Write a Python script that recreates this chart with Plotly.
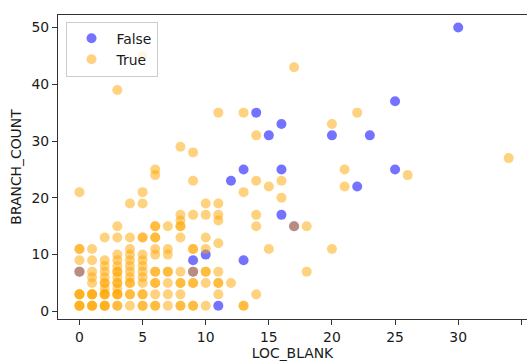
import plotly.graph_objects as go

# LOC_BLANK / BRANCH_COUNT for the "False" class
false_x = [30, 25, 14, 16, 15, 20, 23, 12, 13, 16, 16, 17, 10, 9, 13, 11, 0, 9, 25, 22]
false_y = [50, 37, 35, 33, 31, 31, 31, 23, 25, 25, 17, 15, 10, 9, 9, 1, 7, 7, 25, 22]

# LOC_BLANK / BRANCH_COUNT for the "True" class
true_x = [
    0, 0, 0, 0, 0, 0, 0, 0, 0, 0, 0,
    1, 1, 1, 1, 1, 1, 1, 1, 1, 1, 1,
    2, 2, 2, 2, 2, 2, 2, 2, 2, 2, 2, 2, 2, 2,
    3, 3, 3, 3, 3, 3, 3, 3, 3, 3, 3, 3, 3, 3, 3, 3, 3,
    4, 4, 4, 4, 4, 4, 4, 4, 4, 4, 4, 4, 4,
    5, 5, 5, 5, 5, 5, 5, 5, 5, 5, 5, 5, 5, 5, 5,
    6, 6, 6, 6, 6, 6, 6, 6, 6, 6, 6, 6, 6, 6, 6,
    7, 7, 7, 7, 7, 7, 7, 7,
    8, 8, 8, 8, 8, 8, 8, 8, 8, 8, 8, 8,
    9, 9, 9, 9, 9, 9, 9, 9, 9, 9,
    10, 10, 10, 10, 10, 10, 10, 10,
    11, 11, 11, 11, 11, 11, 11, 11, 11,
    12,
    13, 13, 13, 13,
    14, 14, 14, 14, 14,
    15, 15, 16, 16, 17, 17, 18, 18, 20, 20, 21, 21, 22, 26, 34,
]
true_y = [
    1, 1, 1, 3, 3, 3, 7, 9, 11, 11, 21,
    1, 1, 1, 3, 3, 3, 5, 6, 7, 9, 11,
    1, 1, 1, 3, 3, 3, 4, 5, 5, 6, 7, 8, 9, 13,
    1, 1, 3, 3, 3, 4, 5, 5, 6, 7, 7, 8, 9, 10, 13, 15, 39,
    1, 3, 3, 5, 5, 6, 7, 8, 9, 10, 11, 13, 19,
    1, 1, 3, 3, 5, 6, 7, 8, 9, 10, 13, 13, 19, 21, 45,
    1, 1, 3, 5, 5, 7, 7, 10, 11, 13, 13, 15, 15, 24, 25,
    1, 3, 5, 7, 7, 10, 11, 15,
    1, 1, 3, 5, 5, 7, 13, 15, 15, 16, 17, 29,
    1, 1, 5, 5, 7, 11, 11, 17, 23, 28,
    1, 5, 7, 7, 11, 13, 17, 19,
    3, 5, 5, 7, 12, 16, 17, 19, 35,
    5,
    1, 1, 21, 35,
    3, 15, 17, 23, 31,
    11, 22, 20, 23, 15, 43, 7, 15, 11, 33, 22, 25, 35, 24, 27,
]

series_names = ["False", "True"]
x_ticks = [0, 5, 10, 15, 20, 25, 30, 35]
y_ticks = [0, 10, 20, 30, 40, 50]

FONT = "DejaVu Sans"
FS = 13.9
TXT = "#1a1a1a"

fig = go.Figure()
fig.add_trace(go.Scatter(
    x=false_x, y=false_y, mode="markers", name=series_names[0],
    marker=dict(color="rgba(0,0,255,0.55)", size=10, line=dict(width=0)),
))
fig.add_trace(go.Scatter(
    x=true_x, y=true_y, mode="markers", name=series_names[1],
    marker=dict(color="rgba(255,165,0,0.5)", size=10, line=dict(width=0)),
))

axis_common = dict(
    showgrid=False, zeroline=False, showline=True, linecolor="#333333", linewidth=1.1,
    ticks="outside", ticklen=5, tickwidth=1.1, tickcolor="#333333",
    tickfont=dict(family=FONT, size=FS, color=TXT), automargin=False,
)

fig.update_layout(
    width=527, height=361,
    margin=dict(l=58, r=0, t=15, b=42),
    paper_bgcolor="white", plot_bgcolor="white",
    font=dict(family=FONT, size=FS, color=TXT),
    xaxis=dict(
        range=[-1.7, 35.45], tickvals=x_ticks, mirror=True,
        title=dict(text="LOC_BLANK", font=dict(family=FONT, size=FS, color=TXT), standoff=6),
        **axis_common,
    ),
    yaxis=dict(
        range=[-1.34, 52.2], tickvals=y_ticks, mirror=False,
        title=dict(text="BRANCH_COUNT", font=dict(family=FONT, size=FS, color=TXT), standoff=6),
        **axis_common,
    ),
    legend=dict(
        x=0.016, y=0.978, xanchor="left", yanchor="top",
        bgcolor="rgba(255,255,255,0.8)", bordercolor="#cccccc", borderwidth=1,
        font=dict(family=FONT, size=FS, color=TXT), itemwidth=40,
    ),
    showlegend=True,
)

fig.write_html(
    "out.html",
    config={"displayModeBar": False},
    post_script="document.body.style.margin='0';document.body.style.overflow='hidden';",
)
